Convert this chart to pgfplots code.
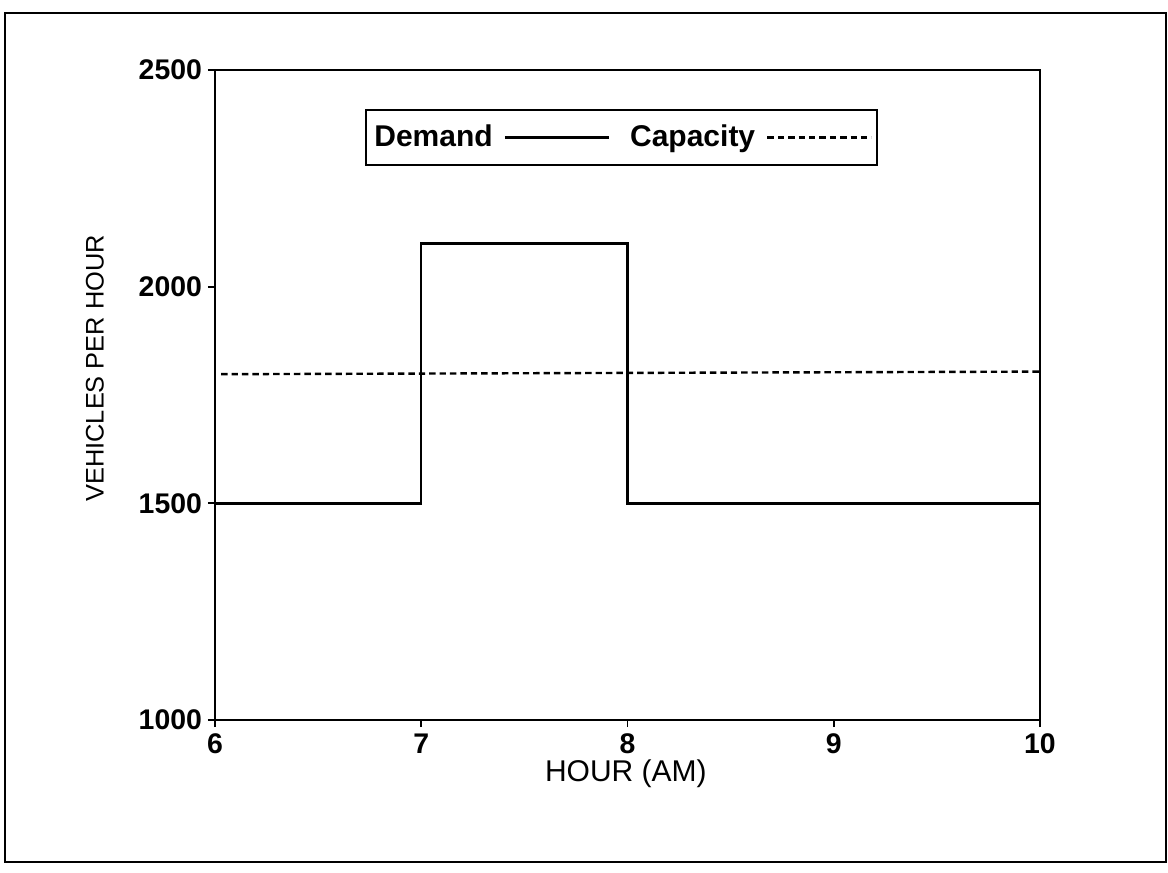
\documentclass[border=0pt]{standalone}
\usepackage{fontspec}
\setmainfont{Liberation Sans}
\usepackage{pgfplots}
\pgfplotsset{compat=1.18}
\begin{document}
\begin{tikzpicture}
\useasboundingbox (-107.5pt,-76.5pt) rectangle (476.5pt,360pt);
\draw[line width=1.1pt] (-105pt,-71pt) rectangle (475.5pt,353.5pt);
\begin{axis}[at={(0,0)}, anchor=south west, scale only axis,
  width=412.5pt, height=325pt,
  xmin=6, xmax=10, ymin=1000, ymax=2500,
  xtick={6,7,8,9,10}, xticklabels={6,7,8,9,10},
  ytick={1000,1500,2000,2500}, yticklabels={1000,1500,2000,2500},
  tick pos=left, tick align=outside, major tick length=3.5pt,
  every tick/.style={black, line width=0.9pt},
  axis line style={line width=1pt},
  ticklabel style={font=\fontsize{14.2}{16}\selectfont\bfseries},
  yticklabel style={xshift=0.5pt},
  xlabel={HOUR (AM)},
  ylabel={VEHICLES PER HOUR},
  xlabel style={at={(axis description cs:0.498,-0.082)}, anchor=center, font=\fontsize{15}{17}\selectfont},
  ylabel style={at={(axis description cs:-0.1455,0.541)}, anchor=center, font=\fontsize{12.7}{15}\selectfont},
  legend plot pos=right,
  legend columns=-1,
  legend style={at={(axis description cs:0.4927,0.896)}, anchor=center,
    draw=black, line width=1pt, inner xsep=2pt, inner ysep=5.5pt,
    font=\fontsize{15}{17}\selectfont\bfseries,
    /tikz/every odd column/.append style={column sep=3.5pt},
    /tikz/every even column/.append style={column sep=8pt}},
  legend image code/.code={\draw[#1] (0pt,0pt) -- (52pt,0pt);},
]
\addplot[const plot, black, line width=1.2pt] coordinates {(6,1500) (7,2100) (8,1500) (10,1500)};
\addlegendentry{Demand}
\addplot[black, line width=1.2pt, dash pattern=on 3.2pt off 2pt] coordinates {(6.03,1798) (10,1804)};
\addlegendentry{Capacity}
\end{axis}
\end{tikzpicture}
\end{document}
